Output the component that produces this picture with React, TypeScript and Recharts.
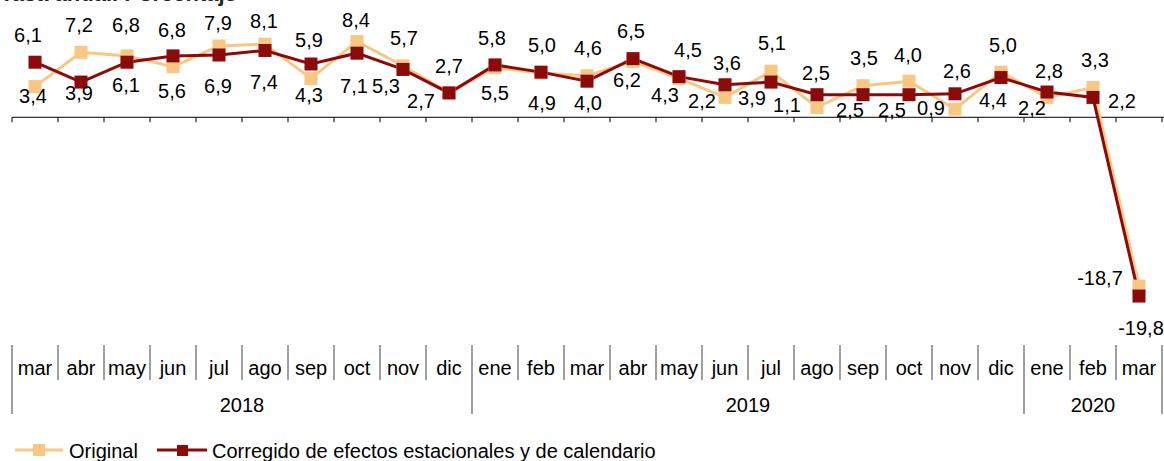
import React from 'react';
import { LineChart, Line, XAxis, YAxis, ReferenceLine, LabelList } from 'recharts';

// ---- data ----
const months = ['mar', 'abr', 'may', 'jun', 'jul', 'ago', 'sep', 'oct', 'nov', 'dic', 'ene', 'feb', 'mar', 'abr', 'may', 'jun', 'jul', 'ago', 'sep', 'oct', 'nov', 'dic', 'ene', 'feb', 'mar'];
const yearLabels = ['2018', '2019', '2020'];
const yearMonthCounts = [10, 12, 3];
const original = [3.4, 7.2, 6.8, 5.6, 7.9, 8.1, 4.3, 8.4, 5.7, 2.7, 5.5, 4.9, 4.6, 6.2, 4.3, 2.2, 5.1, 1.1, 3.5, 4.0, 0.9, 5.0, 2.2, 3.3, -18.7];
const corregido = [6.1, 3.9, 6.1, 6.8, 6.9, 7.4, 5.9, 7.1, 5.3, 2.7, 5.8, 5.0, 4.0, 6.5, 4.5, 3.6, 3.9, 2.5, 2.5, 2.5, 2.6, 4.4, 2.8, 2.2, -19.8];
const seriesNames = ['Original', 'Corregido de efectos estacionales y de calendario'];
const titleText = 'Tasa anual. Porcentaje';

// ---- label layout (offsets of label baseline from the point) ----
const origLabelDx = [-2, -2, -1, -1, -1, -1, -2, -1, 1, -28, 0, 1, 1, -6, -14, -23, 1, -30, 1, -1, -24, 2, -15, 2, -39];
const origLabelDy = [16, -20, -24, 31, -16, -16, 24, -14, -21, 15, 32, 37, -21, 26, 24, 11, -21, 5, -21, -19, 6, -20, 18, -20, -1];
const corrLabelDx = [-7, -2, -1, -1, -1, -1, -2, -3, -17, 0, -3, 1, 1, -2, 9, 2, -19, -1, -13, -17, 2, -8, 2, 29, 2];
const corrLabelDy = [-20, 18, 30, -19, 38, 39, -17, 40, 24, -20, -20, -20, 29, -21, -20, -15, 23, -15, 22, 22, -16, 29, -14, 11, 39];

const data = months.map((m, i) => ({ key: `${m}-${i}`, orig: original[i], corr: corregido[i] }));

// ---- style ----
const FONT = '"Liberation Sans", Arial, sans-serif';
const ORANGE = '#F8C784';
const RED = '#8B0A0A';
const W = 1164;
const H = 461;
const LEFT = 12;
const RIGHT = 2;
const STEP = (W - LEFT - RIGHT) / months.length;

const yearStarts: number[] = [];
{
  let acc = 0;
  for (const c of yearMonthCounts) {
    yearStarts.push(acc);
    acc += c;
  }
}

const fmt = (v: number) => v.toFixed(1).replace('.', ',');

const MonthTick = (props: any) => {
  const { x, y, index } = props;
  const left = x - STEP / 2;
  const yi = yearStarts.indexOf(index);
  const isLast = index === months.length - 1;
  return (
    <g>
      <line x1={left} x2={left} y1={y + 2} y2={yi >= 0 ? y + 71 : y + 37} stroke="#404040" strokeWidth={1} />
      {isLast && <line x1={x + STEP / 2} x2={x + STEP / 2} y1={y + 2} y2={y + 71} stroke="#404040" strokeWidth={1} />}
      <text x={x} y={y + 32} textAnchor="middle" fontFamily={FONT} fontSize={20} fill="#000">{months[index]}</text>
      {yi >= 0 && (
        <text x={left + (yearMonthCounts[yi] * STEP) / 2} y={y + 69} textAnchor="middle" fontFamily={FONT} fontSize={20} fill="#000">
          {yearLabels[yi]}
        </text>
      )}
    </g>
  );
};

const ZeroLine = (p: any) => {
  const yy = p.y1;
  const ticks = [];
  for (let k = 0; k <= months.length; k++) {
    const tx = LEFT + k * STEP;
    ticks.push(<line key={k} x1={tx} x2={tx} y1={yy} y2={yy + 5} stroke="#000" strokeWidth={1} />);
  }
  return (
    <g>
      <line x1={LEFT} x2={W} y1={yy} y2={yy} stroke="#000" strokeWidth={1} />
      {ticks}
    </g>
  );
};

const makeLabel = (dxs: number[], dys: number[]) => (p: any) => {
  const { x, y, value, index } = p;
  return (
    <text key={`l-${index}`} x={x + dxs[index]} y={y + dys[index]} textAnchor="middle" fontFamily={FONT} fontSize={20} fill="#000">
      {fmt(Number(value))}
    </text>
  );
};

const makeDot = (color: string) => (p: any) => (
  <rect key={`d-${p.index}`} x={p.cx - 6.5} y={p.cy - 6.5} width={13} height={13} fill={color} />
);

export default function App() {
  return (
    <div style={{ position: 'absolute', left: 0, top: 0, width: W, height: H, background: '#fff' }}>
      <LineChart width={W} height={H} data={data} margin={{ top: 27, right: RIGHT, bottom: 38, left: LEFT }}>
        <YAxis hide domain={[-25, 10]} type="number" />
        <XAxis
          dataKey="key"
          interval={0}
          padding={{ left: STEP / 2, right: STEP / 2 }}
          axisLine={false}
          tickLine={false}
          tickSize={0}
          tickMargin={0}
          height={80}
          tick={<MonthTick />}
        />
        <ReferenceLine y={0} shape={ZeroLine} />
        <Line
          dataKey="orig"
          type="linear"
          stroke={ORANGE}
          strokeWidth={3}
          dot={makeDot(ORANGE)}
          activeDot={false}
          isAnimationActive={false}
        >
          <LabelList dataKey="orig" content={makeLabel(origLabelDx, origLabelDy)} />
        </Line>
        <Line
          dataKey="corr"
          type="linear"
          stroke={RED}
          strokeWidth={3}
          dot={makeDot(RED)}
          activeDot={false}
          isAnimationActive={false}
        >
          <LabelList dataKey="corr" content={makeLabel(corrLabelDx, corrLabelDy)} />
        </Line>
      </LineChart>
      <svg width={W} height={H} style={{ position: 'absolute', left: 0, top: 0, pointerEvents: 'none' }}>
        <text x={0} y={1} fontFamily={FONT} fontWeight="bold" fontSize={22} fill="#222">{titleText}</text>
        <line x1={15} x2={63} y1={450} y2={450} stroke={ORANGE} strokeWidth={3} />
        <rect x={33} y={444} width={12} height={12} fill={ORANGE} />
        <text x={69} y={458} fontFamily={FONT} fontSize={20} fill="#000">{seriesNames[0]}</text>
        <line x1={157} x2={207} y1={450} y2={450} stroke={RED} strokeWidth={3} />
        <rect x={177} y={445} width={11} height={11} fill={RED} />
        <text x={212} y={458} fontFamily={FONT} fontSize={20} fill="#000">{seriesNames[1]}</text>
      </svg>
    </div>
  );
}
